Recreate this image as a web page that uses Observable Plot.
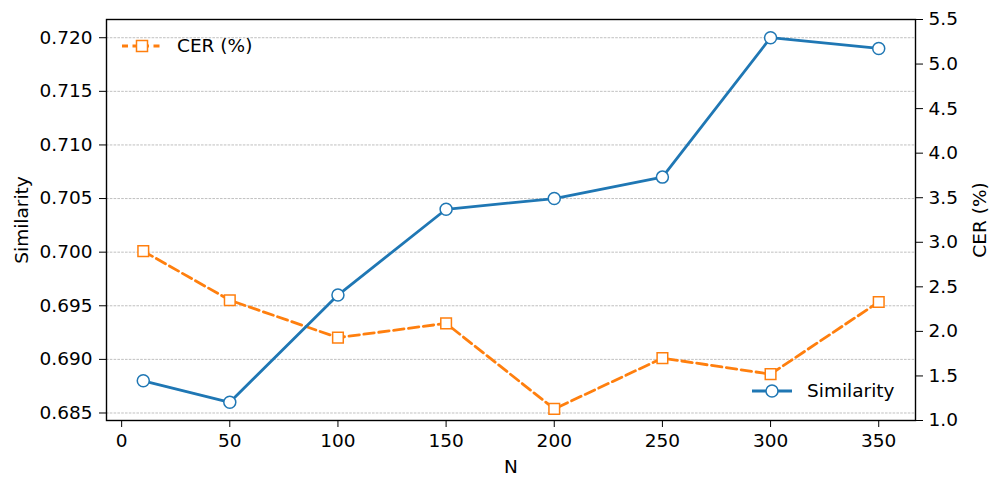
<!DOCTYPE html>
<html>
<head>
<meta charset="utf-8">
<script src="https://cdn.jsdelivr.net/npm/d3@7"></script>
<script src="https://cdn.jsdelivr.net/npm/@observablehq/plot@0.6"></script>
<style>
  html, body { margin: 0; padding: 0; background: #fff; }
  #chart { width: 997px; height: 490px; }
</style>
</head>
<body>
<div id="chart"></div>
<script>
// ---- data ----
const N = [10, 50, 100, 150, 200, 250, 300, 350];
const similarity = [0.688, 0.686, 0.696, 0.704, 0.705, 0.707, 0.720, 0.719];
const cer = [2.90, 2.35, 1.93, 2.09, 1.13, 1.70, 1.52, 2.33];
const xTicks = [0, 50, 100, 150, 200, 250, 300, 350];
const simTicks = [0.685, 0.690, 0.695, 0.700, 0.705, 0.710, 0.715, 0.720];
const cerTicks = [1.0, 1.5, 2.0, 2.5, 3.0, 3.5, 4.0, 4.5, 5.0, 5.5];

// ---- scales ----
const simDomain = [0.6843, 0.7217];
const cerDomain = [1.0, 5.5];
const toSim = c => simDomain[0] + (c - cerDomain[0]) / (cerDomain[1] - cerDomain[0]) * (simDomain[1] - simDomain[0]);
const fromSim = s => cerDomain[0] + (s - simDomain[0]) / (simDomain[1] - simDomain[0]) * (cerDomain[1] - cerDomain[0]);

const simData = N.map((n, i) => ({N: n, v: similarity[i]}));
const cerData = N.map((n, i) => ({N: n, v: toSim(cer[i])}));

const BLUE = "#1f77b4", ORANGE = "#ff7f0e";
const FONT = "18.5px";
const LW = 2.8;
const DASH = "10.5,4.5";

const plot = Plot.plot({
  width: 997,
  height: 490,
  marginLeft: 106,
  marginRight: 82,
  marginTop: 19,
  marginBottom: 70,
  style: {fontFamily: "DejaVu Sans", fontSize: FONT, color: "black", background: "white"},
  x: {domain: [-7, 367]},
  y: {domain: simDomain},
  marks: [
    Plot.gridY(simTicks, {stroke: "#b0b0b0", strokeOpacity: 1, strokeWidth: 0.8, strokeDasharray: "2.6,1.2"}),
    Plot.axisX({ticks: xTicks, tickSize: 7, tickPadding: 6, tickFormat: d => String(d), fontSize: FONT,
      label: "N", labelAnchor: "center", labelArrow: "none", labelOffset: 52}),
    Plot.axisY({anchor: "left", ticks: simTicks, tickSize: 7, tickPadding: 7, tickFormat: d => d.toFixed(3), fontSize: FONT,
      label: "Similarity", labelAnchor: "center", labelArrow: "none", labelOffset: 92}),
    Plot.axisY({anchor: "right", ticks: cerTicks.map(toSim), tickSize: 7, tickPadding: 6, fontSize: FONT,
      tickFormat: d => fromSim(d).toFixed(1),
      label: "CER (%)", labelAnchor: "center", labelArrow: "none", labelOffset: 70}),
    Plot.line(cerData, {x: "N", y: "v", stroke: ORANGE, strokeWidth: LW, strokeDasharray: DASH}),
    Plot.dot(cerData, {x: "N", y: "v", symbol: "square", r: 6, stroke: ORANGE, fill: "white", strokeWidth: 1.5}),
    Plot.line(simData, {x: "N", y: "v", stroke: BLUE, strokeWidth: LW}),
    Plot.dot(simData, {x: "N", y: "v", symbol: "circle", r: 6, stroke: BLUE, fill: "white", strokeWidth: 1.5}),
    Plot.frame({stroke: "black", strokeWidth: 1.4})
  ]
});

// legends
const svg = d3.select(plot);
function legend(x, y, color, dash, symbol, label) {
  const g = svg.append("g").attr("text-anchor", "start");
  g.append("line").attr("x1", x).attr("x2", x + 40).attr("y1", y).attr("y2", y)
    .attr("stroke", color).attr("stroke-width", LW).attr("stroke-dasharray", dash || null);
  if (symbol === "square") {
    g.append("rect").attr("x", x + 20 - 5.5).attr("y", y - 5.5).attr("width", 11).attr("height", 11)
      .attr("fill", "white").attr("stroke", color).attr("stroke-width", 1.5);
  } else {
    g.append("circle").attr("cx", x + 20).attr("cy", y).attr("r", 6)
      .attr("fill", "white").attr("stroke", color).attr("stroke-width", 1.5);
  }
  g.append("text").attr("x", x + 55).attr("y", y).attr("dy", "0.35em").attr("text-anchor", "start")
    .attr("font-family", "DejaVu Sans").attr("font-size", FONT).attr("fill", "black").text(label);
}
legend(122, 46, ORANGE, "6,4.5", "square", "CER (%)");
legend(752, 391, BLUE, null, "circle", "Similarity");

document.getElementById("chart").appendChild(plot);
</script>
</body>
</html>
